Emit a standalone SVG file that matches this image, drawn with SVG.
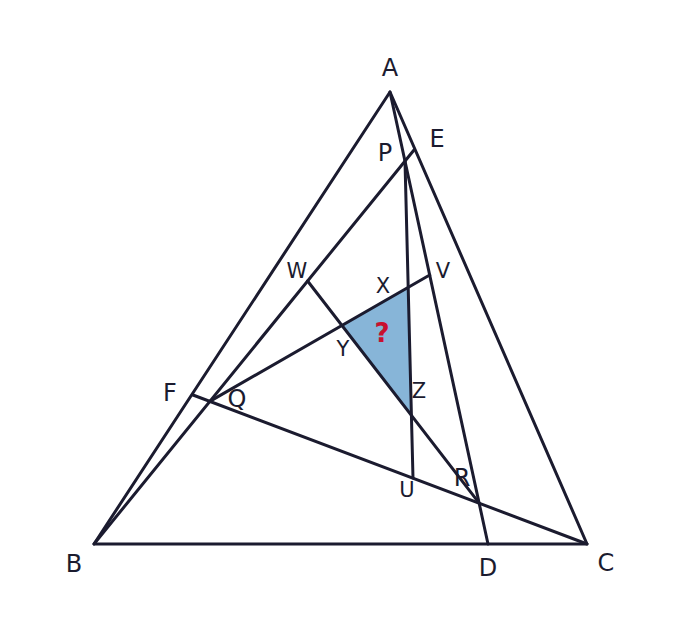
<svg xmlns="http://www.w3.org/2000/svg" width="681" height="639" viewBox="0 0 681 639">
<style>
.ln{stroke:#1b1b2f;stroke-width:3;fill:none;stroke-linecap:round;stroke-linejoin:round}
.lb{font-family:"DejaVu Sans",sans-serif;font-size:24px;fill:#1b1b2f;text-anchor:middle}
.ls{font-family:"DejaVu Sans",sans-serif;font-size:21px;fill:#1b1b2f;text-anchor:middle}
.q{font-family:"DejaVu Sans",sans-serif;font-size:26px;font-weight:bold;fill:#c8102e;text-anchor:middle}
</style>
<rect width="681" height="639" fill="#ffffff"/>
<g id="shaded">
<polygon points="408.2,287.4 341.9,325.5 411.4,415.4" fill="#87b5d8"/>
</g>
<g id="connectors">
<polygon class="ln" points="390,92 94,544 587,544"/>
<line class="ln" x1="94" y1="544" x2="414" y2="150"/>
<line class="ln" x1="390" y1="92" x2="488" y2="544"/>
<line class="ln" x1="587" y1="544" x2="193" y2="395"/>
<line class="ln" x1="405" y1="161.1" x2="413" y2="478"/>
<line class="ln" x1="209.8" y1="401.4" x2="429.7" y2="275"/>
<line class="ln" x1="479.2" y1="503.2" x2="307.6" y2="281"/>
</g>
<g id="labels">
<text class="lb" x="390" y="76">A</text>
<text class="lb" x="74" y="572">B</text>
<text class="lb" x="606" y="571">C</text>
<text class="lb" x="488" y="576">D</text>
<text class="lb" x="437" y="147">E</text>
<text class="lb" x="170" y="401">F</text>
<text class="lb" x="385" y="161">P</text>
<text class="lb" x="237" y="407">Q</text>
<text class="lb" x="462" y="486">R</text>
<text class="ls" x="407" y="497">U</text>
<text class="ls" x="443" y="278">V</text>
<text class="ls" x="297" y="278">W</text>
<text class="ls" x="383" y="293">X</text>
<text class="ls" x="343" y="356">Y</text>
<text class="ls" x="419" y="398">Z</text>
<text class="q" x="382" y="342">?</text>
</g>
</svg>
